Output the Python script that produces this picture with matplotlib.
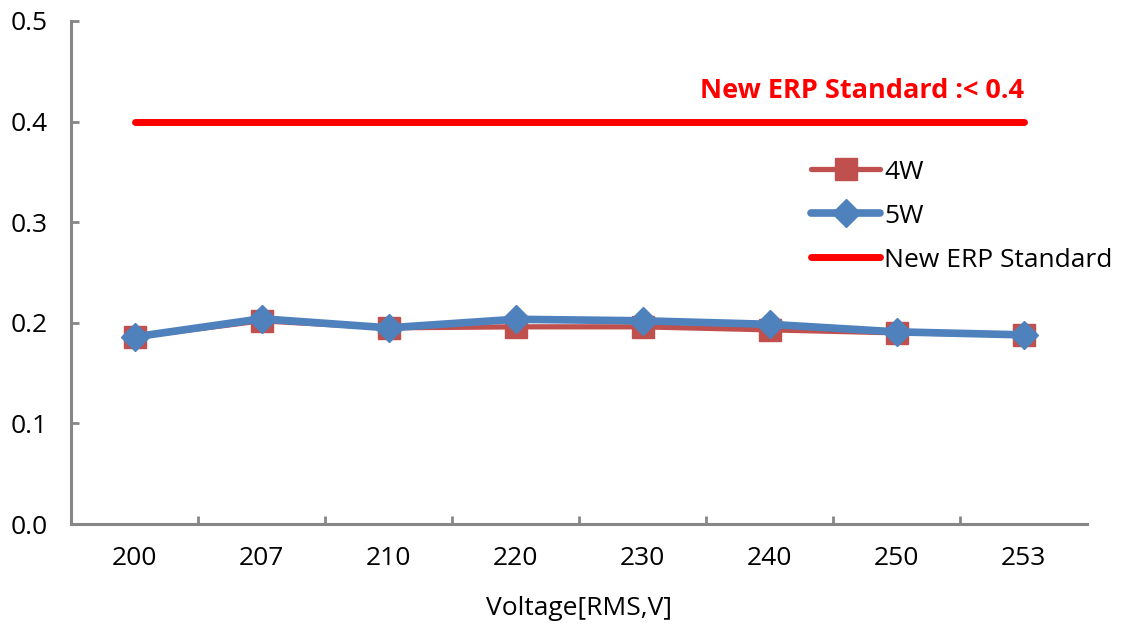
import matplotlib
matplotlib.use("Agg")
import matplotlib.pyplot as plt
import numpy as np

categories = ["200", "207", "210", "220", "230", "240", "250", "253"]
w4 = [0.186, 0.202, 0.195, 0.196, 0.196, 0.193, 0.190, 0.188]
w5 = [0.186, 0.204, 0.195, 0.2035, 0.202, 0.1985, 0.191, 0.188]
standard = [0.4] * len(categories)
yticks = [0.0, 0.1, 0.2, 0.3, 0.4, 0.5]

plt.rcParams['font.family'] = ['Open Sans', 'DejaVu Sans']

fig = plt.figure(figsize=(11.38, 6.25), dpi=100)
ax = fig.add_axes([71/1138, 101/625, (1087-71)/1138, (604-101)/625])

x = np.arange(len(categories))
ax.plot(x, standard, color="#FF0000", lw=5, solid_capstyle="round", label="New ERP Standard", zorder=2)
ax.plot(x, w4, color="#C0504D", lw=3.8, marker="s", markersize=16, solid_capstyle="round", label="4W", zorder=3)
ax.plot(x, w5, color="#4F81BD", lw=5.5, marker="D", markersize=14, solid_capstyle="round", label="5W", zorder=4)

ax.set_xlim(-0.5, len(categories) - 0.5)
ax.set_ylim(0, 0.5)
ax.set_xticks(x)
ax.set_xticklabels(categories, fontsize=19)
ax.set_xticks(np.arange(0.5, len(categories) - 0.5, 1), minor=True)
ax.tick_params(axis="x", which="major", length=0, pad=16)
ax.tick_params(axis="x", which="minor", direction="in", length=6, width=2, color="#868686")
ax.set_yticks(yticks)
ax.set_yticklabels([f"{v:.1f}" for v in yticks], fontsize=19)
ax.tick_params(axis="y", direction="in", length=6, width=2, color="#868686", pad=17)

for s in ["top", "right"]:
    ax.spines[s].set_visible(False)
for s in ["left", "bottom"]:
    ax.spines[s].set_color("#868686")
    ax.spines[s].set_linewidth(2.2)

ax.set_xlabel("Voltage[RMS,V]", fontsize=19, labelpad=18)

ax.text(7.0, 0.430, "New ERP Standard :< 0.4", color="#FF0000", fontsize=19.5,
        fontweight="bold", ha="right", va="center")

handles, labels = ax.get_legend_handles_labels()
order = [1, 2, 0]
ax.legend([handles[i] for i in order], [labels[i] for i in order],
          loc="upper left", bbox_to_anchor=((800-71)/1016, (524-149)/503),
          frameon=False, fontsize=19, handlelength=2.65, handletextpad=0.15,
          labelspacing=0.72, borderaxespad=0)

fig.savefig("out.png", dpi=100)
